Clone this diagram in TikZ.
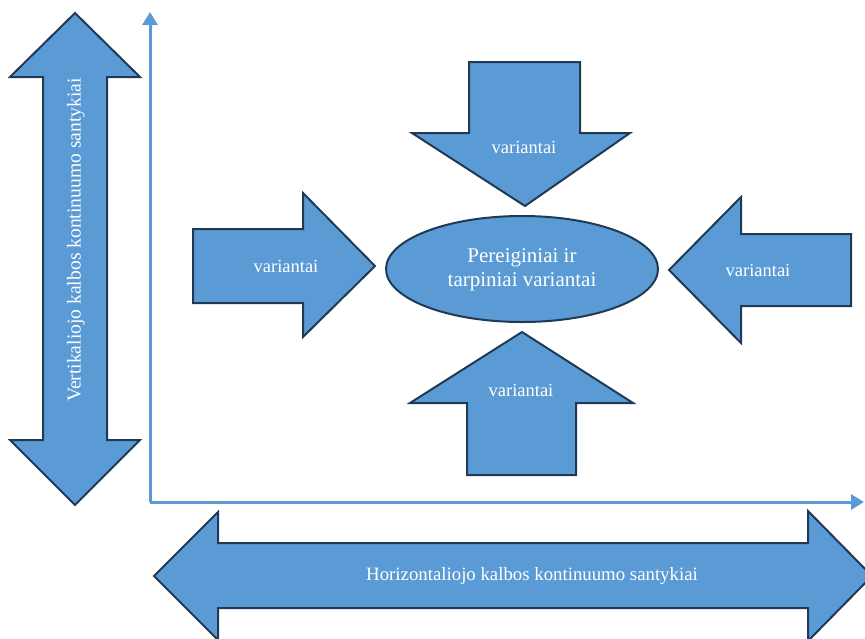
\documentclass[tikz,border=0pt]{standalone}
\usepackage{fontspec}
\setmainfont{Liberation Serif}
\usetikzlibrary{arrows.meta,shapes.geometric}
\definecolor{shapefill}{HTML}{5B9BD5}
\definecolor{shapeedge}{HTML}{203A56}
\definecolor{axiscol}{HTML}{5B9BD5}
\tikzset{
  blockarrow/.style={fill=shapefill,draw=shapeedge,line width=2pt,line join=miter},
  label/.style={text=white,font=\fontsize{18.5}{22}\selectfont,inner sep=0pt},
  axis/.style={draw=axiscol,line width=3pt,-{Triangle[length=13pt,width=15pt]}}
}
\begin{document}
\begin{tikzpicture}[x=1pt,y=-1pt]
\useasboundingbox (0,0) rectangle (865,638);

% axes
\coordinate (ytop) at (150,12);
\coordinate (origin) at (150,502);
\coordinate (xend) at (864,502);
\draw[axis] (origin) -- (ytop);
\draw[axis] (origin) -- (xend);

% vertical double arrow
\draw[blockarrow] (75,13) -- (140,77) -- (107,77) -- (107,440) -- (140,440) -- (75,505)
  -- (10,440) -- (43,440) -- (43,77) -- (10,77) -- cycle;
\node[label,rotate=90,font=\fontsize{19.6}{22}\selectfont] (vlabel) at (76,240)
  {Vertikaliojo kalbos kontinuumo santykiai};

% horizontal double arrow
\draw[blockarrow] (154,576) -- (218,512) -- (218,543) -- (808,543) -- (808,511) -- (872,576)
  -- (808,641) -- (808,608) -- (218,608) -- (218,640) -- cycle;
\node[label,font=\fontsize{18.8}{22}\selectfont] (hlabel) at (532,576)
  {Horizontaliojo kalbos kontinuumo santykiai};

% central ellipse
\node[ellipse,fill=shapefill,draw=shapeedge,line width=2pt,minimum width=272pt,minimum height=106pt,
  inner sep=0pt] (core) at (522,269) {};
\node[label,align=center,font=\fontsize{21}{24}\selectfont] (corelabel) at (522,270)
  {Pereiginiai ir\\tarpiniai variantai};

% arrow from the left
\draw[blockarrow] (193,229) -- (303,229) -- (303,193) -- (375,266) -- (303,337) -- (303,303)
  -- (193,303) -- cycle;
\node[label] (lefttext) at (286,266) {variantai};

% arrow from the top
\draw[blockarrow] (469,62) -- (580,62) -- (580,133) -- (630,133) -- (525,206) -- (412,133)
  -- (469,133) -- cycle;
\node[label] (toptext) at (524,147) {variantai};

% arrow from the right
\draw[blockarrow] (851,234) -- (741,234) -- (741,197) -- (669,270) -- (741,343) -- (741,306)
  -- (851,306) -- cycle;
\node[label] (righttext) at (758,270) {variantai};

% arrow from below
\draw[blockarrow] (467,475) -- (576,475) -- (576,403) -- (633,403) -- (522,332) -- (410,403)
  -- (467,403) -- cycle;
\node[label] (bottomtext) at (521,390) {variantai};
\end{tikzpicture}
\end{document}
